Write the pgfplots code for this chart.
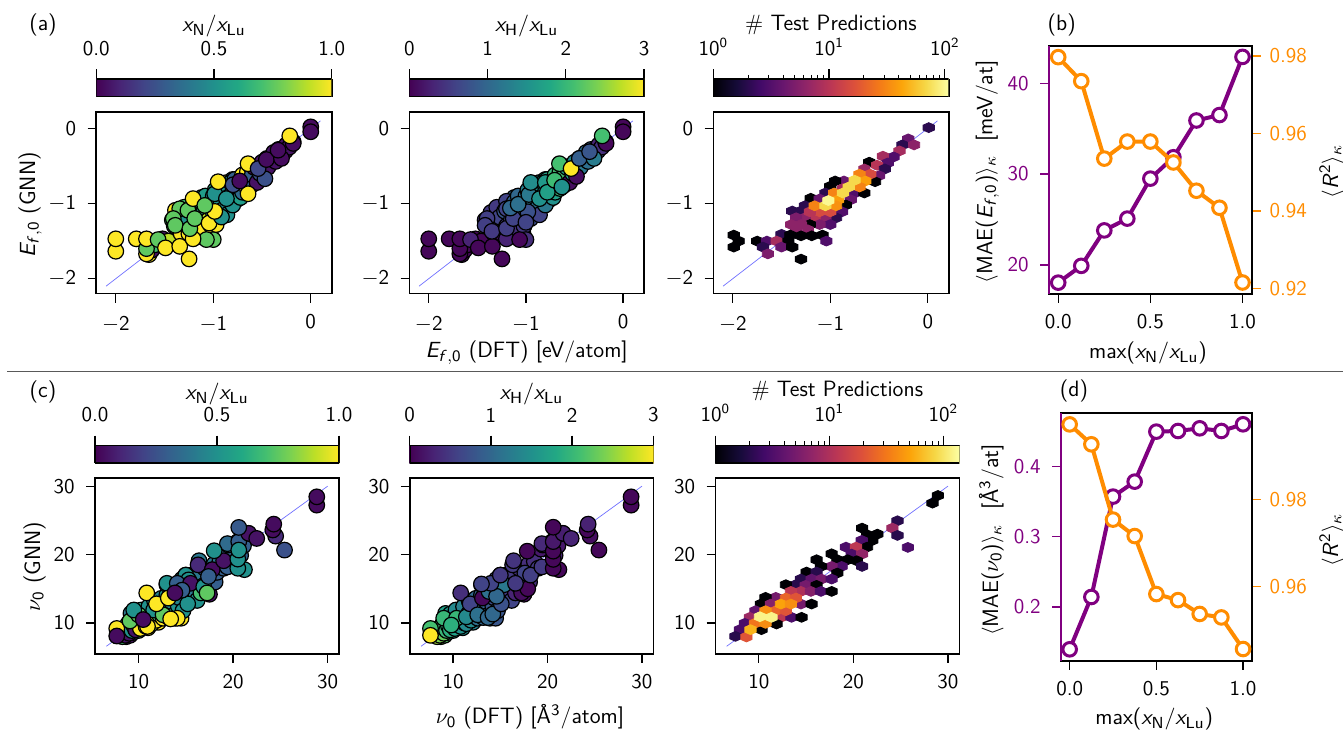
\documentclass[border=0pt]{standalone}
\usepackage{pgfplots}
\usepackage{pgfplotstable}
\pgfplotsset{compat=1.18}
\DeclareMathAlphabet{\mathsfit}{OT1}{cmss}{m}{sl}
\definecolor{v0}{HTML}{440154}\definecolor{v1}{HTML}{482475}\definecolor{v2}{HTML}{414487}\definecolor{v3}{HTML}{355F8D}\definecolor{v4}{HTML}{2A788E}\definecolor{v5}{HTML}{21918C}\definecolor{v6}{HTML}{22A884}\definecolor{v7}{HTML}{44BF70}\definecolor{v8}{HTML}{7AD151}\definecolor{v9}{HTML}{BDDF26}\definecolor{v10}{HTML}{FDE725}
\definecolor{i0}{HTML}{000004}\definecolor{i1}{HTML}{160B39}\definecolor{i2}{HTML}{420A68}\definecolor{i3}{HTML}{6A176E}\definecolor{i4}{HTML}{932667}\definecolor{i5}{HTML}{BC3754}\definecolor{i6}{HTML}{DD513A}\definecolor{i7}{HTML}{F37819}\definecolor{i8}{HTML}{FCA50A}\definecolor{i9}{HTML}{F6D746}\definecolor{i10}{HTML}{FCFFA4}
\definecolor{mypurple}{HTML}{800080}\definecolor{myorange}{HTML}{FF8C00}
\pgfdeclarehorizontalshading{virbar}{100bp}{color(0bp)=(v0);color(25bp)=(v0);color(30bp)=(v1);color(35bp)=(v2);color(40bp)=(v3);color(45bp)=(v4);color(50bp)=(v5);color(55bp)=(v6);color(60bp)=(v7);color(65bp)=(v8);color(70bp)=(v9);color(75bp)=(v10);color(100bp)=(v10)}
\pgfdeclarehorizontalshading{infbar}{100bp}{color(0bp)=(i0);color(25bp)=(i0);color(30bp)=(i1);color(35bp)=(i2);color(40bp)=(i3);color(45bp)=(i4);color(50bp)=(i5);color(55bp)=(i6);color(60bp)=(i7);color(65bp)=(i8);color(70bp)=(i9);color(75bp)=(i10);color(100bp)=(i10)}
\pgfdeclareplotmark{hexb}{\pgfpathmoveto{\pgfqpoint{0pt}{2.45pt}}\pgfpathlineto{\pgfqpoint{2.8pt}{1.22pt}}\pgfpathlineto{\pgfqpoint{2.8pt}{-1.22pt}}\pgfpathlineto{\pgfqpoint{0pt}{-2.45pt}}\pgfpathlineto{\pgfqpoint{-2.8pt}{-1.22pt}}\pgfpathlineto{\pgfqpoint{-2.8pt}{1.22pt}}\pgfpathclose\pgfusepathqfillstroke}
\newcommand\fs{\sffamily\fontsize{10.5}{12.6}\selectfont}
\newcommand\fl{\sffamily\fontsize{11.1}{13.3}\selectfont}
\newcommand\mn{\rule{0pt}{8.3pt}$-$}
\pgfplotsset{
 colormap={vir}{rgb255=(68,1,84) rgb255=(72,36,117) rgb255=(65,68,135) rgb255=(53,95,141) rgb255=(42,120,142) rgb255=(33,145,140) rgb255=(34,168,132) rgb255=(68,191,112) rgb255=(122,209,81) rgb255=(189,223,38) rgb255=(253,231,37)},
 colormap={inf}{rgb255=(0,0,4) rgb255=(22,11,57) rgb255=(66,10,104) rgb255=(106,23,110) rgb255=(147,38,103) rgb255=(188,55,84) rgb255=(221,81,58) rgb255=(243,120,25) rgb255=(252,165,10) rgb255=(246,215,70) rgb255=(252,255,164)},
 base/.style={scale only axis,anchor=south west,axis line style={line width=.8pt},tick style={line width=.65pt,black},tick align=outside,major tick length=4.4pt,minor tick length=2.2pt,tick label style={font=\fs},label style={font=\fl},xticklabel shift=2.2pt,yticklabel shift=2.2pt,xtick pos=lower,ytick pos=left},
 scat/.style={only marks,scatter,mark=*,mark size=3.9pt,scatter src=explicit,scatter/use mapped color={draw=black,fill=mapped color},mark options={line width=.6pt}},
 hexp/.style={only marks,scatter,mark=hexb,point meta={log10(\thisrow{n})},scatter/use mapped color={draw=mapped color,fill=mapped color},mark options={line width=.45pt}},
 diag/.style={blue!80!white,opacity=.7,line width=.35pt},
 rowE/.style={base,height=90.7pt,xmin=-2.2,xmax=0.215,ymin=-2.2,ymax=0.214,xtick={-2,-1,0},xticklabels={\mn2,\mn1,0},ytick={-2,-1,0},yticklabels={$-$2,$-$1,0}},
 rowV/.style={base,height=87.85pt,xmin=5.4,xmax=31.2,ymin=5.47,ymax=31.15,xtick={10,20,30},xticklabels={10,20,30},ytick={10,20,30},yticklabels={10,20,30}},
 cbar/.style={base,ymin=0,ymax=1,ytick=\empty,axis x line*=top,x axis line style={draw=none},xtick pos=upper,xticklabel pos=upper,major tick length=4.85pt,minor tick length=2pt,xticklabel shift=3.2pt,minor x tick style={line width=.45pt}},
 lineL/.style={line width=2pt,color=mypurple,mark=*,mark size=3.4pt,mark options={fill=white,draw=mypurple,line width=1.5pt,solid}},
 lineR/.style={line width=2pt,color=myorange,mark=*,mark size=3.4pt,mark options={fill=white,draw=myorange,line width=1.5pt,solid}},
}
\pgfplotstableread{
x y n h
-1.42 -1.22 .7 .4
-1.35 -1.25 .7 .45
-1.33 -1.10 .6 .6
-1.28 -1.12 .5 .7
-1.25 -1.25 .6 .55
-1.13 -1.28 1 .4
-1.12 -0.92 .5 1
-1.08 -1.18 .6 .8
-1.03 -0.98 .5 1
-1.03 -1.40 .7 .3
-0.98 -1.05 .5 1.1
-0.95 -0.92 .5 1.2
-0.93 -1.12 .5 1
-0.9 -0.82 .5 1.3
-0.88 -1.0 .5 1.3
-0.86 -0.72 1 1.6
-0.83 -0.95 .5 1.4
-0.8 -0.68 .5 1.8
-0.78 -0.8 .5 1.7
-0.76 -0.95 .5 1.5
-0.74 -0.7 .4 1.9
-0.72 -0.78 .5 1.9
-0.68 -0.64 .8 2.1
-0.66 -0.72 1 2.1
-0.63 -0.6 .3 2
-0.6 -0.75 .3 1.8
-0.57 -0.58 .3 1.9
-0.55 -0.63 .25 1.7
-0.5 -0.52 .05 1.5
-0.42 -0.45 .05 1.2
-0.4 -0.38 .05 1.1
-0.34 -0.36 .05 1
-0.26 -0.3 .05 .7
-0.2 -0.21 .05 .2
-1.66 -1.68 1.0 0.05
-1.63 -1.62 0.05 0.05
-1.60 -1.55 0.7 0.05
-1.52 -1.47 0.05 0.05
-1.46 -1.50 0.9 0.05
-1.40 -1.30 0.7 0.4
-1.38 -1.20 0.7 0.45
-1.36 -1.12 1.0 0.5
-1.33 -1.40 1.0 0.05
-1.30 -1.05 0.7 0.5
-1.30 -1.27 0.7 0.5
-1.27 -1.18 0.5 0.6
-1.25 -1.40 1.0 0.1
-1.22 -1.10 0.5 0.8
-1.20 -0.97 1.0 0.6
-1.20 -1.30 0.7 0.5
-1.18 -1.45 1.0 0.3
-1.16 -1.05 0.55 0.85
-1.15 -1.22 0.6 0.7
-1.12 -0.98 0.5 0.9
-1.10 -1.12 0.6 0.9
-1.10 -1.35 1.0 0.4
-1.08 -0.90 0.55 1.0
-1.05 -1.05 0.5 1.0
-1.05 -1.22 0.9 0.5
-1.02 -1.30 1.0 0.5
-1.00 -0.90 0.5 1.1
-1.00 -1.12 0.55 0.9
-0.98 -0.82 0.6 1.3
-0.97 -1.00 0.45 1.1
-0.95 -1.20 0.5 0.7
-0.92 -0.85 0.5 1.2
-0.92 -0.98 0.5 1.2
-0.90 -1.08 0.5 1.1
-0.88 -0.78 0.5 1.5
-0.86 -1.15 0.5 0.6
-0.85 -0.92 0.45 1.4
-0.82 -0.72 0.5 1.6
-0.80 -0.85 0.4 1.5
-0.80 -1.02 0.5 1.2
-0.78 -0.68 0.3 1.7
-0.75 -0.78 0.5 1.8
-0.72 -0.92 0.55 1.5
-0.70 -0.62 1.0 2.0
-0.70 -0.85 0.35 1.7
-0.68 -0.72 0.05 2.2
-0.65 -0.58 1.0 2.1
-0.65 -0.80 1.0 2.0
-0.62 -0.50 1.0 2.1
-0.62 -0.68 0.3 2.0
-0.60 -0.62 0.3 2.1
-0.58 -0.52 0.05 1.8
-0.55 -0.72 0.05 0.1
-0.52 -0.60 0.25 1.6
-0.50 -0.45 0.05 1.4
-0.48 -0.55 0.3 1.4
-0.45 -0.40 0.05 1.3
-0.44 -0.52 0.05 1.2
-0.38 -0.32 0.05 1.1
-0.36 -0.44 0.05 1.1
-0.33 -0.28 0.05 0.9
-0.30 -0.33 0.05 0.9
-0.28 -0.27 0.05 0.6
-0.25 -0.22 0.05 0.3
-0.22 -0.25 0.05 0.4
-0.18 -0.18 0.05 0.05
}\Bone
\pgfplotstableread{
x y c
-2.0 -1.635 1
-2.0 -1.47 1
-1.685 -1.67 1
-1.79 -1.47 1
-1.685 -1.60 0.75
-1.685 -1.47 1
-1.566 -1.48 0.75
-1.49 -1.59 1
-1.344 -1.57 1
-1.248 -1.737 1
-1.0 -1.48 0.75
-1.07 -1.48 0.75
-1.207 -1.47 1
-1.388 -1.09 1
-1.344 -1.07 0.75
-1.41 -1.20 0.75
-1.39 -1.29 0.75
-1.24 -1.335 0.75
-1.26 -1.09 0.75
-1.19 -1.20 0.75
-0.97 -1.28 1
-1.043 -1.26 1
-1.207 -0.935 1
-0.916 -1.18 0.5
-0.985 -1.105 1
-1.087 -1.025 0.75
-0.985 -0.87 0.5
-0.865 -0.935 0.5
-0.95 -0.71 1
-0.643 -0.87 1
-0.643 -0.47 1
-0.797 -0.75 0.25
-0.728 -0.70 0.03
-0.47 -0.67 0.25
-0.54 -0.535 0.22
-0.455 -0.415 0.03
-0.30 -0.40 0.03
-0.335 -0.29 0.03
-0.18 -0.20 0.03
-0.215 -0.10 1
0 0.02 0.03
0 -0.045 0.03
}\TopA
\pgfplotstableread{
x y c
-2.0 -1.635 0.05
-2.0 -1.47 0.05
-1.79 -1.47 0.05
-1.68 -1.67 0.05
-1.68 -1.60 0.05
-1.68 -1.47 0.05
-1.57 -1.48 0.3
-1.49 -1.59 0.05
-1.345 -1.57 0.05
-1.246 -1.737 0.05
-1.2 -1.47 0.3
-1.0 -1.48 0.4
-1.065 -1.48 0.05
-1.40 -1.20 0.55
-1.42 -1.29 0.55
-1.35 -1.37 0.5
-1.20 -1.33 0.55
-1.20 -1.07 0.6
-1.13 -1.20 0.6
-0.98 -1.11 0.75
-1.0 -1.25 0.6
-1.16 -1.06 1.0
-1.08 -1.01 1.1
-0.97 -0.88 1.2
-0.86 -0.935 1.5
-0.95 -0.72 1.45
-0.80 -0.72 1.6
-0.78 -0.85 1.7
-0.655 -0.47 2.1
-0.48 -0.64 0.1
-0.705 -0.69 2.05
-0.63 -0.78 1.5
-0.535 -0.535 3
-0.45 -0.40 0.9
-0.30 -0.40 1.25
-0.345 -0.31 0.8
-0.175 -0.20 0.05
-0.215 -0.10 2.1
0 0.02 0.05
0 -0.045 0.05
}\TopB
\pgfplotstableread{
x y n
0.01 0.01 2
-0.20 -0.14 4
-0.26 -0.22 2
-0.14 -0.22 6
-0.29 -0.30 8
-0.35 -0.38 3
-0.46 -0.37 8
-0.60 -0.45 1
-0.41 -0.46 3
-0.52 -0.49 10
-0.65 -0.54 7
-0.44 -0.54 2
-0.50 -0.63 4
-0.54 -0.71 1
-0.86 -0.70 4
-0.95 -0.70 1
-1.00 -0.77 1
-0.87 -0.80 8
-0.75 -0.86 3
-0.65 -0.86 1
-1.05 -0.86 2
-0.79 -0.95 4
-1.20 -0.93 1
-1.11 -0.94 4
-0.84 -1.02 1
-1.26 -1.03 2
-1.30 -1.10 2
-1.39 -1.10 2
-0.88 -1.11 3
-0.94 -1.19 2
-1.05 -1.19 6
-1.16 -1.19 10
-1.26 -1.19 6
-1.35 -1.19 5
-1.00 -1.28 3
-1.11 -1.28 5
-1.21 -1.28 1
-1.30 -1.28 6
-1.40 -1.28 6
-1.23 -1.35 6
-1.35 -1.35 6
-1.50 -1.41 2
-1.41 -1.42 1
-1.30 -1.43 1
-1.19 -1.43 1
-1.08 -1.42 1
-1.99 -1.42 1
-1.94 -1.50 1
-1.75 -1.50 1
-1.65 -1.50 3
-1.55 -1.50 8
-1.43 -1.50 1
-1.04 -1.50 3
-1.99 -1.58 1
-1.69 -1.58 2
-1.50 -1.58 4
-1.39 -1.58 1
-1.64 -1.67 5
-1.30 -1.74 1
-1.00 -1.11 15
-1.11 -1.11 15
-1.21 -1.11 10
-0.59 -0.61 15
-0.70 -0.61 30
-0.64 -0.70 40
-0.70 -0.78 30
-0.96 -0.86 30
-0.92 -0.95 40
-0.94 -1.03 35
-1.16 -1.03 30
-0.87 -0.86 70
-0.81 -0.78 70
-0.75 -0.69 70
-1.05 -1.03 70
-1.02 -0.96 100
}\HexA
\pgfplotstableread{
x y n h
8 8.2 .05 2.4
8.4 8.6 .3 2.3
8.5 9.2 .6 2.2
8.7 8.0 .05 2.5
8.8 8.9 .5 2.1
9.1 8.2 .05 2.2
9.2 9.6 .5 2
9.2 11.4 .4 1.7
9.4 8.6 .3 2
9.6 10.2 .7 1.9
9.8 9.3 .5 1.8
9.9 10.8 .5 1.8
10 8.9 .5 1.8
10.2 10.2 .6 1.7
10.4 9.6 .8 1.6
10.6 11.4 .5 1.5
10.7 10 .5 1.6
11 9.3 1 1.5
11.2 11 .5 1.4
11.4 11.9 .5 1.3
11.6 10.2 .7 1.4
11.9 11.6 .6 1.3
12.1 10.1 1 1.3
12.3 12.8 .5 1.1
12.4 11.8 .6 1.2
12.9 11.3 .5 1.1
13.1 13.2 .5 1
13.3 12.2 .5 1
13.6 14.5 .4 .8
13.7 12 .5 .9
14 13 .5 .8
14.5 14.8 .4 .7
14.9 15.9 .4 .6
15.3 14.7 .4 .6
15.6 17.0 .3 .5
16.1 15.3 .3 .5
16.5 15.6 .3 .5
17 16.4 .3 .4
17.8 16.2 .3 .4
18.4 18 .3 .4
20.2 20.7 .3 .3
20.2 21 .5 .3
7.9 8.6 1 2.2
8.3 8.0 .7 2.6
8.6 8.2 .05 2.4
9.0 8.5 .05 2.3
9.0 9.3 .3 2
8.9 9.9 .6 2
9.3 8.9 .5 2
9.3 10.5 .4 2
9.5 9.6 1 1.9
9.7 9.0 .05 1.9
9.7 11.3 .5 1.6
10 9.8 .6 1.8
10.2 9.2 1 1.7
10.3 11.9 .6 1.4
10.6 10.4 .5 1.5
10.8 9.5 1 1.5
10.9 11.0 .7 1.4
11.1 12.4 .5 1.3
11.2 10.0 1 1.5
11.4 9.9 .8 1.4
11.6 11.3 .5 1.2
11.7 13.2 .5 1.1
11.9 10.4 1 1.4
12 12.2 .6 1.2
12.2 11.2 .7 1.2
12.4 13.6 .45 1
12.6 10.7 1 1.1
12.8 12.5 .5 1
13 14.1 .5 .9
13 15.6 .5 .7
13.2 10.8 .5 1
13.4 11.5 .7 1
13.5 13.1 .45 .9
13.8 11.2 .5 .9
13.9 10.7 1 .9
14 15.3 .3 .6
14.2 12.5 .5 .8
14.3 13.7 .45 .7
14.5 10.7 1 .8
14.6 16.4 .5 .6
14.7 11.8 .5 .8
15 14.8 .3 .6
15.0 17.0 .4 .5
15.2 15.6 .5 .6
15.4 13.5 .5 .7
15.8 16.2 .3 .5
15.9 14.7 .4 .5
16.2 13.3 .5 .6
16.4 16.9 .4 .5
16.6 14.4 .7 .3
16.9 15.5 .5 .5
17 18 .3 .4
17.3 15.9 .3 .3
17.5 14.2 .05 .1
17.6 16.8 .2 .5
18 18.6 .4 .4
18.1 16 .3 .4
18.3 17.4 .3 .5
18.6 19.0 .4 .4
19 18.0 .3 .5
19.3 20.8 .3 .2
19.5 21.4 .4 .4
20.5 21.9 .3 .3
20.8 19.9 .3 .3
20.9 22.4 .15 .15
21.1 21.3 .3 .2
21.6 23.1 .05 .3
}\Btwo
\pgfplotstableread{
x y c
7.7 9.2 1
7.7 8.1 .03
9.1 10.3 .75
10.0 11.2 .75
9.5 11.9 .5
11.6 11.9 .5
10.95 9.5 1
12.6 11.2 .75
14.1 10.7 1
13.4 10.6 1
10.5 10.5 .03
10.87 14.4 1
13.0 15.8 .5
15.0 17.0 .5
15.3 16.3 .5
14.1 15.8 .3
15.5 15.8 .05
16.9 15.3 .5
17.25 14.4 .75
15.2 12.8 .5
14.6 14.8 .3
11.9 12.8 1
13.15 13.65 1
13.85 14.4 .03
16.4 19.1 .4
16.3 18.5 .12
17.8 17.8 .03
17.4 16.8 .3
19.4 18.2 .3
19.0 19.1 .05
19.4 21.6 .35
18.0 20.56 .5
21.2 17.8 .5
20.5 18.0 .5
20.5 19.34 .5
20.6 21.9 .3
21.65 23.1 .05
22.5 22.36 .05
20.6 23.97 .28
20.6 20.66 .5
24.5 22.7 .12
24.2 23.6 .03
24.3 24.45 .03
25.44 20.66 .25
28.85 27.23 .03
28.85 28.44 .03
}\TopC
\pgfplotstableread{
x y c
7.6 9.2 2.1
7.6 8.2 3
9.0 10.7 2.0
10.36 10.7 2.0
9.8 9.7 1.9
11.4 10.9 1.4
10.8 14.4 .4
11.8 12.8 .6
12.6 11.2 1.1
13.7 10.8 1.0
14.2 11.3 1.0
13.1 13.65 .05
13.8 14.6 1.1
15.1 12.8 .75
15.4 15.6 1.2
14.6 13.9 1.0
14.0 15.8 .6
13.0 15.7 .6
15.0 17.0 .5
16.3 18.5 .5
16.4 19.1 .45
17.25 14.4 .1
17.9 15.0 .05
17.6 17.3 .6
16.6 15.8 .5
18.2 17.0 .55
19.4 18.2 .5
19.4 21.6 .35
17.85 20.5 .05
21.2 17.8 .05
20.6 18.0 .05
20.6 19.3 .05
20.6 20.5 .05
20.6 21.9 .2
21.65 23.1 .25
22.5 22.36 .3
20.6 24.0 .05
24.5 22.7 .1
24.2 23.6 .05
24.3 24.45 .28
25.44 20.66 .05
28.85 27.23 .05
28.85 28.44 .05
}\TopD
\pgfplotstableread{
x y n
28.94 28.64 1
28.37 27.52 1
24.66 24.94 2
24.13 23.87 8
24.66 22.80 2
25.76 21.05 3
20.92 23.87 1
21.45 22.90 1
22.54 22.99 1
22.01 22.07 1
20.88 22.07 3
21.45 21.09 1
19.22 21.09 3
20.28 21.09 12
19.82 20.07 3
20.92 20.07 7
20.35 19.10 1
20.92 18.27 2
17.70 20.12 1
18.30 19.25 1
19.40 19.25 1
18.76 18.27 3
17.70 18.27 5
18.30 17.30 1
16.11 19.25 1
16.57 18.27 1
15.05 17.45 1
16.11 17.45 2
14.45 16.42 2
15.58 16.42 4
16.64 16.42 5
17.70 16.42 3
13.92 15.60 2
12.86 15.60 1
14.95 15.50 5
16.11 15.50 1
14.45 14.62 10
13.39 14.62 12
15.51 14.62 6
16.57 14.62 3
17.70 14.62 1
11.80 13.75 5
10.71 13.75 1
14.45 12.77 5
15.58 12.77 1
10.21 12.77 1
11.27 12.77 6
9.65 11.80 4
9.05 10.83 8
12.33 10.83 12
13.46 10.83 3
14.52 10.83 1
8.52 9.95 3
11.87 9.85 1
7.99 9.03 3
10.28 9.03 1
7.53 8.05 2
8.69 7.96 20
12.86 13.65 25
13.92 13.65 20
11.80 11.80 25
12.86 11.80 20
12.33 12.77 50
13.39 12.77 40
10.71 11.80 40
9.58 9.95 30
10.71 9.95 40
9.12 9.03 60
10.11 10.92 120
11.34 10.83 120
}\HexC
\pgfplotstableread{
x mae r
0 18.05 .9797
0.125 19.9 .9735
0.25 23.8 .9535
0.375 25.1 .9579
0.5 29.5 .9579
0.625 31.85 .9525
0.75 35.9 .9452
0.875 36.5 .9408
1 42.9 .9215
}\PanelB
\pgfplotstableread{
x mae r
0 .1398 .9974
0.125 .2142 .9928
0.25 .3569 .9754
0.375 .3782 .9716
0.5 .4493 .9582
0.625 .4502 .9568
0.75 .454 .9536
0.875 .4502 .9528
1 .4597 .9455
}\PanelD
\newcommand\xnl{$\mathsfit{x}_{\mathsf{N}}/\mathsfit{x}_{\mathsf{Lu}}$}
\newcommand\xhl{$\mathsfit{x}_{\mathsf{H}}/\mathsfit{x}_{\mathsf{Lu}}$}
\newcommand\ef{\mathsfit{E}_{\mathsfit{f},\mathsf{0}}}
\newcommand\nuz{\nu_{\mathsf{0}}}
\newcommand\rr{$\langle \mathsfit{R}^{\mathsf{2}}\rangle_\kappa$}
\begin{document}
\begin{tikzpicture}
\path[use as bounding box] (0,0) rectangle (671.5pt,364.5pt);
% ---- colour bars row 1
\begin{axis}[cbar,at={(48.15pt,316pt)},width=117.7pt,height=9pt,xmin=0,xmax=1,xtick={0,.5,1},xticklabels={0.0,0.5,1.0},xlabel={\xnl},x label style={at={(axis description cs:.5,3.63)},anchor=base}]
\fill[shading=virbar] (rel axis cs:0,0) rectangle (rel axis cs:1,1);
\draw[line width=.8pt] (rel axis cs:0,0) rectangle (rel axis cs:1,1);
\end{axis}
\begin{axis}[cbar,at={(204.65pt,316pt)},width=117.35pt,height=9pt,xmin=0,xmax=3,xtick={0,1,2,3},xticklabels={0,1,2,3},xlabel={\xhl},x label style={at={(axis description cs:.5,3.63)},anchor=base}]
\fill[shading=virbar] (rel axis cs:0,0) rectangle (rel axis cs:1,1);
\draw[line width=.8pt] (rel axis cs:0,0) rectangle (rel axis cs:1,1);
\end{axis}
\begin{axis}[cbar,xmode=log,at={(356.65pt,316pt)},width=117.7pt,height=9pt,xmin=1,xmax=108,xtick={1,10,100},xticklabels={10$^{\mathsf{0}}$,10$^{\mathsf{1}}$,10$^{\mathsf{2}}$},minor xtick={2,3,4,5,6,7,8,9,20,30,40,50,60,70,80,90},xlabel={\# Test Predictions},x label style={at={(axis description cs:.5,3.72)},anchor=base}]
\fill[shading=infbar] (rel axis cs:0,0) rectangle (rel axis cs:1,1);
\draw[line width=.8pt] (rel axis cs:0,0) rectangle (rel axis cs:1,1);
\end{axis}
% ---- scatter row 1
\begin{axis}[rowE,at={(48.15pt,217.65pt)},width=117.7pt,colormap name=vir,point meta min=0,point meta max=1,ylabel={$\ef$ (GNN)},y label style={at={(axis description cs:-.26,.49)},anchor=base}]
\addplot[scat] table[x=x,y=y,meta=n]{\Bone};
\addplot[scat] table[x=x,y=y,meta=c]{\TopA};
\addplot[diag] coordinates {(-2.1,-2.1)(0.1,0.1)};
\end{axis}
\begin{axis}[rowE,at={(204.65pt,217.65pt)},width=117.35pt,colormap name=vir,point meta min=0,point meta max=3,xlabel={$\ef$ (DFT) [eV/atom]},x label style={at={(axis description cs:.5,-.353)},anchor=base}]
\addplot[scat] table[x=x,y=y,meta=h]{\Bone};
\addplot[scat] table[x=x,y=y,meta=c]{\TopB};
\addplot[diag] coordinates {(-2.1,-2.1)(0.1,0.1)};
\end{axis}
\begin{axis}[rowE,at={(356.65pt,217.65pt)},width=117.7pt,colormap name=inf,point meta min=0,point meta max=2.035]
\addplot[hexp] table[x=x,y=y]{\HexA};
\addplot[diag] coordinates {(-2.1,-2.1)(0.1,0.1)};
\end{axis}
% ---- panel (b)
\begin{axis}[base,clip=false,at={(524.5pt,217.5pt)},width=101.35pt,height=124pt,xmin=-.05,xmax=1.05,ymin=16.8,ymax=44.1,xtick={0,.5,1},xticklabels={0.0,0.5,1.0},ytick={20,30,40},yticklabels={20,30,40},yticklabel style={mypurple},ytick style={mypurple,line width=.65pt},xlabel={max(\xnl)},x label style={at={(axis description cs:.488,-.26)},anchor=base},ylabel={$\langle$MAE($\ef$)$\rangle_\kappa$\ \ [meV/at]},y label style={at={(axis description cs:-.28,.493)},anchor=base}]
\addplot[lineL] table[x=x,y=mae]{\PanelB};
\draw[mypurple,line width=.9pt] (rel axis cs:0,0)--(rel axis cs:0,1);
\end{axis}
\begin{axis}[base,clip=false,at={(524.5pt,217.5pt)},width=101.35pt,height=124pt,xmin=-.05,xmax=1.05,ymin=.91853,ymax=.98258,axis y line*=right,axis x line=none,ytick pos=right,yticklabel pos=right,ytick={.92,.94,.96,.98},yticklabels={0.92,0.94,0.96,0.98},yticklabel style={myorange},ytick style={myorange,line width=.65pt},yticklabel shift=1pt,ylabel={\rr},y label style={at={(axis description cs:1.426,.493)},anchor=base}]
\addplot[lineR] table[x=x,y=r]{\PanelB};
\end{axis}
% ---- divider
\draw[line width=.75pt,black!65] (3.5pt,178.65pt)--(671.5pt,178.65pt);
% ---- colour bars row 2
\begin{axis}[cbar,at={(47.5pt,133pt)},width=122pt,height=8.85pt,xmin=0,xmax=1,xtick={0,.5,1},xticklabels={0.0,0.5,1.0},xlabel={\xnl},x label style={at={(axis description cs:.5,3.56)},anchor=base}]
\fill[shading=virbar] (rel axis cs:0,0) rectangle (rel axis cs:1,1);
\draw[line width=.8pt] (rel axis cs:0,0) rectangle (rel axis cs:1,1);
\end{axis}
\begin{axis}[cbar,at={(204.85pt,133pt)},width=121.8pt,height=8.85pt,xmin=0,xmax=3,xtick={0,1,2,3},xticklabels={0,1,2,3},xlabel={\xhl},x label style={at={(axis description cs:.5,3.56)},anchor=base}]
\fill[shading=virbar] (rel axis cs:0,0) rectangle (rel axis cs:1,1);
\draw[line width=.8pt] (rel axis cs:0,0) rectangle (rel axis cs:1,1);
\end{axis}
\begin{axis}[cbar,xmode=log,at={(357.65pt,133pt)},width=122pt,height=8.85pt,xmin=1,xmax=138,xtick={1,10,100},xticklabels={10$^{\mathsf{0}}$,10$^{\mathsf{1}}$,10$^{\mathsf{2}}$},minor xtick={2,3,4,5,6,7,8,9,20,30,40,50,60,70,80,90},xlabel={\# Test Predictions},x label style={at={(axis description cs:.5,3.75)},anchor=base}]
\fill[shading=infbar] (rel axis cs:0,0) rectangle (rel axis cs:1,1);
\draw[line width=.8pt] (rel axis cs:0,0) rectangle (rel axis cs:1,1);
\end{axis}
% ---- scatter row 2
\begin{axis}[rowV,at={(47.5pt,37.5pt)},width=122pt,colormap name=vir,point meta min=0,point meta max=1,ylabel={$\nuz$ (GNN)},y label style={at={(axis description cs:-.225,.497)},anchor=base}]
\addplot[scat] table[x=x,y=y,meta=n]{\Btwo};
\addplot[scat] table[x=x,y=y,meta=c]{\TopC};
\addplot[diag] coordinates {(6.6,6.6)(30,30)};
\end{axis}
\begin{axis}[rowV,at={(204.85pt,37.5pt)},width=121.8pt,colormap name=vir,point meta min=0,point meta max=3,xlabel={$\nuz$ (DFT) [\AA$^{\mathsf{3}}$/atom]},x label style={at={(axis description cs:.494,-.397)},anchor=base}]
\addplot[scat] table[x=x,y=y,meta=h]{\Btwo};
\addplot[scat] table[x=x,y=y,meta=c]{\TopD};
\addplot[diag] coordinates {(6.6,6.6)(30,30)};
\end{axis}
\begin{axis}[rowV,at={(357.65pt,37.5pt)},width=122pt,colormap name=inf,point meta min=0,point meta max=2.14]
\addplot[hexp] table[x=x,y=y]{\HexC};
\addplot[diag] coordinates {(6.6,6.6)(30,30)};
\end{axis}
% ---- panel (d)
\begin{axis}[base,clip=false,at={(530.5pt,34.15pt)},width=95.35pt,height=124pt,xmin=-.05,xmax=1.05,ymin=.1236,ymax=.4762,xtick={0,.5,1},xticklabels={0.0,0.5,1.0},ytick={.2,.3,.4},yticklabels={0.2,0.3,0.4},yticklabel style={mypurple},ytick style={mypurple,line width=.65pt},xlabel={max(\xnl)},x label style={at={(axis description cs:.489,-.259)},anchor=base},ylabel={$\langle$MAE($\nuz$)$\rangle_\kappa$\ \ [\AA$^{\mathsf{3}}$/at]},y label style={at={(axis description cs:-.33,.487)},anchor=base}]
\addplot[lineL] table[x=x,y=mae]{\PanelD};
\draw[mypurple,line width=.9pt] (rel axis cs:0,0)--(rel axis cs:0,1);
\end{axis}
\begin{axis}[base,clip=false,at={(530.5pt,34.15pt)},width=95.35pt,height=124pt,xmin=-.05,xmax=1.05,ymin=.9428,ymax=1.0001,axis y line*=right,axis x line=none,ytick pos=right,yticklabel pos=right,ytick={.96,.98},yticklabels={0.96,0.98},yticklabel style={myorange},ytick style={myorange,line width=.65pt},yticklabel shift=1pt,ylabel={\rr},y label style={at={(axis description cs:1.4525,.487)},anchor=base}]
\addplot[lineR] table[x=x,y=r]{\PanelD};
\end{axis}
% ---- panel letters
\node[font=\fl] at (21.5pt,352pt) {(a)};
\node[font=\fl] at (530.85pt,352pt) {(b)};
\node[font=\fl] at (21.5pt,168.65pt) {(c)};
\node[font=\fl] at (537pt,169pt) {(d)};
\end{tikzpicture}
\end{document}
